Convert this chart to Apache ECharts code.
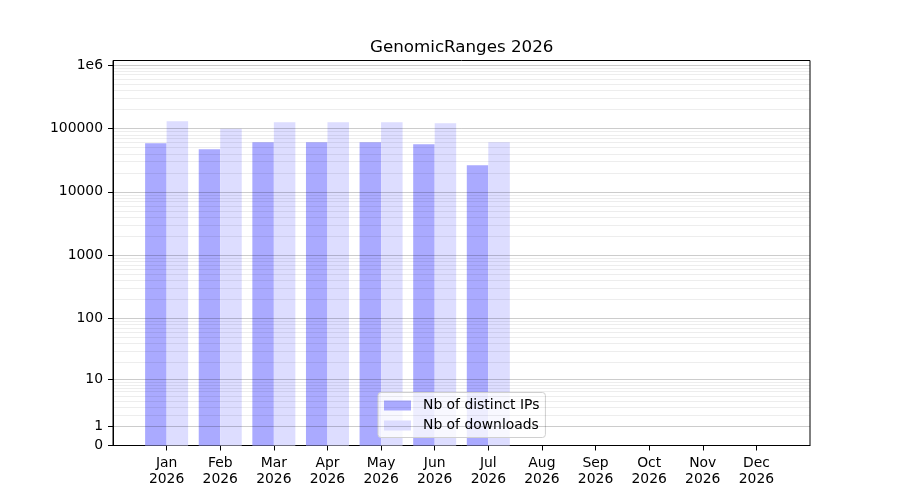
<!DOCTYPE html>
<html>
<head>
<meta charset="utf-8">
<script src="https://cdn.jsdelivr.net/npm/echarts@6/dist/echarts.min.js"></script>
<style>html,body{margin:0;padding:0;background:#fff}#c{width:900px;height:500px}</style>
</head>
<body>
<div id="c"></div>
<script>
const months = ['Jan','Feb','Mar','Apr','May','Jun','Jul','Aug','Sep','Oct','Nov','Dec'];
const year = '2026';
const distinctIPs = [58600, 47100, 60800, 60700, 60800, 56500, 26400];
const downloads = [130400, 98600, 125700, 125600, 125700, 121000, 60800];
const yTickValues = [0, 1, 10, 100, 1000, 10000, 100000, 1000000];
const yTickLabels = ['0', '1', '10', '100', '1000', '10000', '100000', '1e6'];

const tf = v => Math.log10(1 + v);
const fontFamily = 'DejaVu Sans';

const majorLines = yTickValues.slice(1).map(v => ({
  yAxis: tf(v), lineStyle: {color: 'rgba(0,0,0,0.2)', width: 1, type: 'solid'}
}));
const minorLines = [];
for (let n = 0; n <= 5; n++) {
  for (let k = 2; k <= 9; k++) {
    minorLines.push({yAxis: tf(k * Math.pow(10, n)), lineStyle: {color: 'rgba(0,0,0,0.07)', width: 1, type: 'solid'}});
  }
}

const chart = echarts.init(document.getElementById('c'));
chart.setOption({
  animation: false,
  backgroundColor: '#fff',
  title: {
    text: 'GenomicRanges 2026', left: 365, top: 34,
    textStyle: {fontFamily, fontSize: 16.7, fontWeight: 'normal', color: '#000'}
  },
  grid: {left: 113, right: 90, top: 60.5, bottom: 54.5, show: true, borderColor: '#000', borderWidth: 1, backgroundColor: 'transparent'},
  legend: {
    orient: 'vertical', left: 378, top: 392.5,
    padding: [6, 6, 5, 6], itemWidth: 27, itemHeight: 10, itemGap: 6,
    backgroundColor: 'rgba(255,255,255,0.8)', borderColor: '#d0d0d0', borderWidth: 1, borderRadius: 3,
    textStyle: {fontFamily, fontSize: 13.9, color: '#000', padding: [0, 0, 0, 7]},
    data: [{name: 'Nb of distinct IPs', icon: 'rect'}, {name: 'Nb of downloads', icon: 'rect'}]
  },
  xAxis: {
    type: 'value', min: -1, max: 12, interval: 1,
    axisLine: {show: true, onZero: false, lineStyle: {color: '#000'}},
    axisTick: {show: true, length: 5, inside: false, lineStyle: {color: '#000'}, customValues: months.map((m, i) => i)},
    axisLabel: {
      customValues: months.map((m, i) => i), margin: 10,
      fontFamily, fontSize: 13.9, color: '#000', lineHeight: 16,
      formatter: v => months[Math.round(v)] + '\n' + year
    },
    splitLine: {show: false}
  },
  yAxis: {
    type: 'value', min: 0, max: 6.072,
    axisLine: {show: true, onZero: false, lineStyle: {color: '#000'}},
    axisTick: {show: true, length: 5, inside: false, lineStyle: {color: '#000'}, customValues: yTickValues.map(tf)},
    axisLabel: {
      customValues: yTickValues.map(tf), margin: 10,
      fontFamily, fontSize: 13.9, color: '#000',
      formatter: v => {
        let best = 0, d = Infinity;
        yTickValues.forEach((t, i) => { const dd = Math.abs(tf(t) - v); if (dd < d) { d = dd; best = i; } });
        return yTickLabels[best];
      }
    },
    splitLine: {show: false}
  },
  series: [
    {
      name: 'Nb of distinct IPs', type: 'bar', barWidth: 21.5, barGap: '0%',
      itemStyle: {color: '#aaaaff'},
      data: distinctIPs.map((v, i) => [i, tf(v)])
    },
    {
      name: 'Nb of downloads', type: 'bar', barWidth: 21.5, barGap: '0%',
      itemStyle: {color: '#ddddff'},
      data: downloads.map((v, i) => [i, tf(v)])
    },
    {
      name: 'grid', type: 'line', z: 5, silent: true, showSymbol: false,
      lineStyle: {opacity: 0}, data: [[-1, 0]],
      markLine: {silent: true, symbol: ['none', 'none'], label: {show: false}, animation: false,
        data: minorLines.concat(majorLines)}
    }
  ]
});
</script>
</body>
</html>
